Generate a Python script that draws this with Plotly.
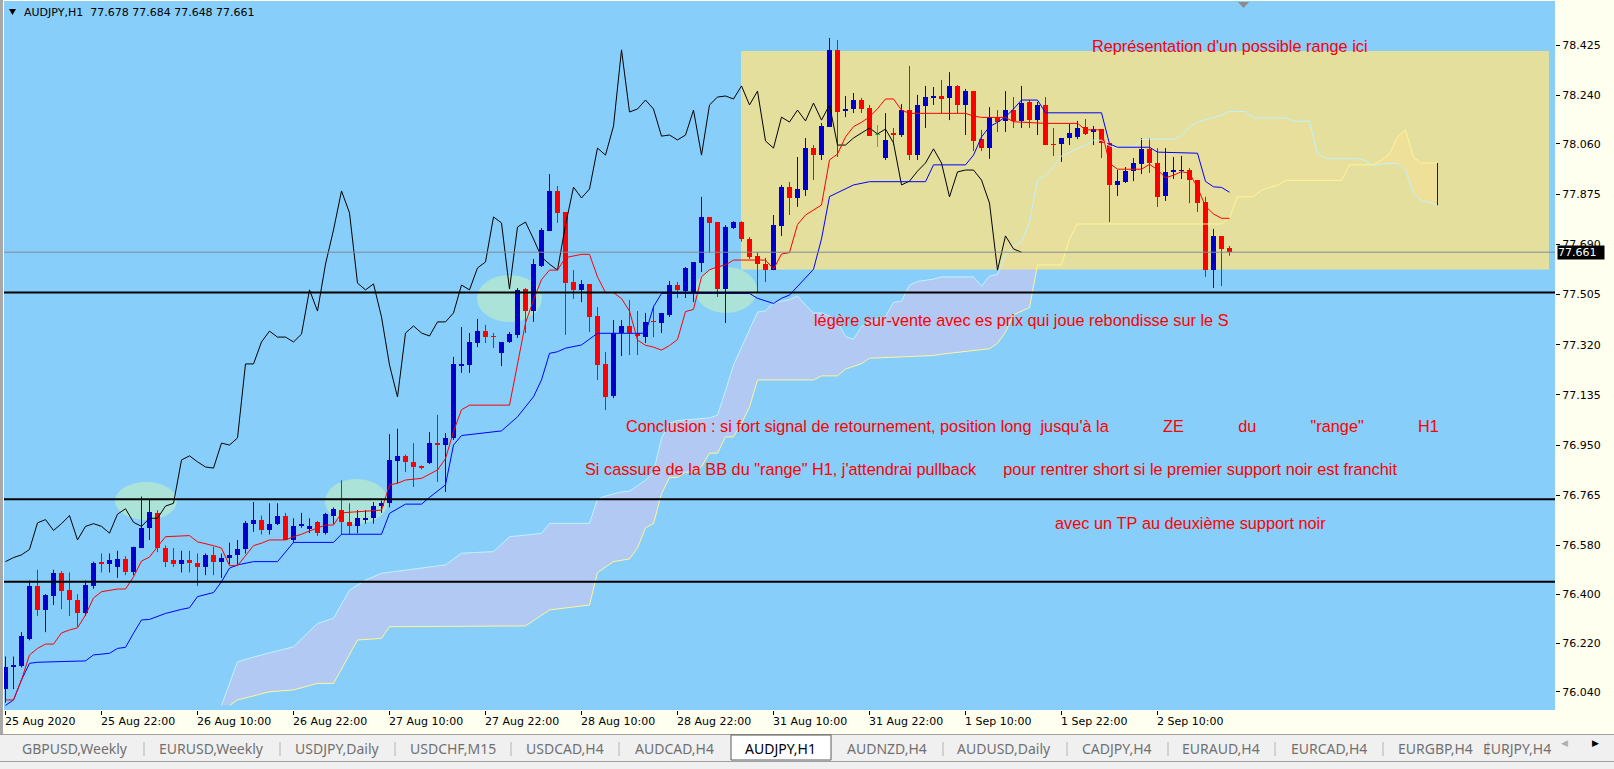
import plotly.graph_objects as go

# ---------------- data ----------------
opens = [76.05,76.13,76.135,76.235,76.43,76.34,76.395,76.478,76.415,76.38,
         76.33,76.43,76.52,76.51,76.50,76.53,76.48,76.57,76.645,76.70,
         76.57,76.525,76.51,76.525,76.515,76.50,76.545,76.52,76.535,76.545,
         76.565,76.66,76.675,76.635,76.66,76.69,76.60,76.65,76.64,76.665,
         76.625,76.69,76.71,76.665,76.65,76.675,76.68,76.725,76.735,76.89,
         76.91,76.887,76.873,76.884,76.957,76.950,76.976,77.241,77.245,77.326,
         77.370,77.350,77.289,77.330,77.356,77.525,77.444,77.610,77.739,77.887,
         77.809,77.551,77.522,77.544,77.426,77.249,77.131,77.363,77.389,77.363,
         77.348,77.407,77.400,77.429,77.540,77.518,77.514,77.621,77.791,77.772,
         77.525,77.750,77.772,77.710,77.647,77.617,77.595,77.758,77.901,77.861,
         77.890,78.045,78.019,78.123,78.407,78.182,78.189,78.222,78.193,78.093,
         78.008,78.101,78.093,78.185,78.019,78.200,78.230,78.237,78.230,78.274,
         78.204,78.255,78.078,78.045,78.159,78.145,78.185,78.145,78.215,78.148,
         78.204,78.060,78.060,78.082,78.086,78.123,78.104,78.115,78.064,77.909,
         77.920,77.960,77.986,78.042,77.990,77.868,77.957,77.960,77.964,77.927,
         77.846,77.595,77.721,77.678]
highs = [76.17,76.17,76.26,76.45,76.49,76.40,76.49,76.485,76.48,76.40,
         76.45,76.52,76.55,76.55,76.56,76.54,76.575,76.76,76.75,76.71,
         76.58,76.57,76.56,76.56,76.55,76.55,76.575,76.55,76.59,76.60,
         76.67,76.74,76.69,76.735,76.735,76.70,76.68,76.70,76.68,76.67,
         76.70,76.72,76.82,76.735,76.71,76.71,76.74,76.745,76.99,77.01,
         76.915,76.957,76.875,76.998,77.061,76.994,77.275,77.385,77.363,77.415,
         77.393,77.363,77.330,77.367,77.529,77.529,77.636,77.750,77.949,77.905,
         77.809,77.595,77.558,77.544,77.459,77.293,77.411,77.411,77.485,77.444,
         77.437,77.463,77.437,77.555,77.551,77.606,77.625,77.865,77.791,77.772,
         77.761,77.775,77.775,77.717,77.662,77.640,77.798,77.909,77.920,78.012,
         78.082,78.056,78.137,78.451,78.443,78.237,78.248,78.230,78.204,78.130,
         78.174,78.119,78.207,78.348,78.241,78.274,78.270,78.296,78.325,78.277,
         78.263,78.255,78.112,78.196,78.185,78.255,78.233,78.274,78.222,78.215,
         78.233,78.119,78.082,78.134,78.145,78.152,78.126,78.115,78.064,77.964,
         77.975,78.008,78.082,78.082,78.045,78.045,78.012,78.016,77.971,77.927,
         77.865,77.747,77.721,77.684]
lows = [76.00,76.05,76.13,76.23,76.32,76.26,76.36,76.345,76.32,76.28,
        76.32,76.42,76.48,76.48,76.46,76.47,76.47,76.57,76.60,76.555,
        76.50,76.50,76.48,76.48,76.43,76.47,76.47,76.46,76.51,76.51,
        76.55,76.63,76.62,76.62,76.655,76.60,76.59,76.645,76.625,76.615,
        76.62,76.66,76.62,76.62,76.625,76.66,76.66,76.70,76.72,76.81,
        76.85,76.795,76.86,76.88,76.814,76.777,76.969,77.216,77.216,77.311,
        77.326,77.308,77.241,77.326,77.345,77.363,77.404,77.606,77.739,77.769,
        77.356,77.489,77.477,77.367,77.190,77.079,77.123,77.278,77.282,77.282,
        77.326,77.348,77.363,77.422,77.492,77.492,77.477,77.588,77.658,77.496,
        77.400,77.747,77.700,77.636,77.514,77.551,77.595,77.721,77.798,77.828,
        77.868,77.927,78.001,78.123,78.012,78.159,78.174,78.174,78.089,78.049,
        78.001,78.056,78.086,78.001,78.001,78.119,78.204,78.174,78.148,78.174,
        78.093,78.034,78.034,78.005,78.104,78.104,78.119,78.119,78.119,78.093,
        78.056,78.016,77.994,78.056,78.078,78.093,78.056,78.008,77.772,77.868,
        77.916,77.923,77.949,77.953,77.828,77.850,77.931,77.931,77.842,77.809,
        77.570,77.529,77.536,77.648]
closes = [76.13,76.14,76.245,76.43,76.34,76.397,76.478,76.412,76.38,76.33,
          76.434,76.515,76.51,76.525,76.53,76.48,76.574,76.644,76.703,76.57,
          76.52,76.51,76.525,76.515,76.50,76.545,76.52,76.535,76.545,76.565,
          76.663,76.675,76.635,76.66,76.69,76.60,76.65,76.66,76.65,76.625,
          76.695,76.715,76.665,76.65,76.68,76.68,76.725,76.735,76.895,76.91,
          76.888,76.869,76.865,76.957,76.950,76.976,77.249,77.249,77.330,77.370,
          77.348,77.348,77.330,77.359,77.522,77.444,77.617,77.743,77.887,77.806,
          77.547,77.522,77.544,77.422,77.245,77.127,77.363,77.389,77.363,77.352,
          77.404,77.404,77.437,77.540,77.522,77.603,77.625,77.791,77.769,77.525,
          77.754,77.772,77.710,77.643,77.617,77.595,77.761,77.901,77.861,77.894,
          78.045,78.019,78.126,78.407,78.178,78.189,78.222,78.189,78.089,78.093,
          78.075,78.093,78.185,78.019,78.204,78.233,78.237,78.226,78.274,78.204,
          78.255,78.071,78.045,78.159,78.141,78.185,78.145,78.211,78.148,78.204,
          78.056,78.056,78.082,78.101,78.119,78.097,78.115,78.064,77.909,77.923,
          77.960,77.990,78.042,77.990,77.865,77.957,77.964,77.964,77.927,77.842,
          77.595,77.721,77.673,77.661]

time_tick_bars = [0, 12, 24, 36, 48, 60, 72, 84, 96, 108, 120, 132, 144]
time_tick_labels = ["25 Aug 2020", "25 Aug 22:00", "26 Aug 10:00", "26 Aug 22:00",
                    "27 Aug 10:00", "27 Aug 22:00", "28 Aug 10:00", "28 Aug 22:00",
                    "31 Aug 10:00", "31 Aug 22:00", "1 Sep 10:00", "1 Sep 22:00",
                    "2 Sep 10:00"]
price_ticks = [78.425, 78.240, 78.060, 77.875, 77.690, 77.505, 77.320,
               77.135, 76.950, 76.765, 76.580, 76.400, 76.220, 76.040]

tenkan_bars = [0,1,2,3,4,5,6,7,8,9,10,11,12,14,15,16,17,18,19,20,23,24,26,27,28,29,31,32,33,35,
               36,37,38,39,40,41,42,47,48,49,50,52,54,55,56,57,58,63,64,65,66,67,68,69,70,72,73,74,75,76,
               77,78,79,80,81,82,83,84,85,86,87,88,89,90,91,95,96,97,98,99,100,102,103,104,105,106,107,108,109,110,
               111,112,113,120,121,122,125,126,130,134,135,137,138,139,142,143,144,145,146,147,148,149,150,151,152,153]
tenkan_vals = [76.010,76.010,76.084,76.176,76.200,76.216,76.216,76.257,76.268,76.276,
               76.323,76.386,76.409,76.419,76.419,76.464,76.522,76.537,76.575,76.612,
               76.616,76.593,76.579,76.570,76.505,76.505,76.579,76.588,76.600,76.600,
               76.612,76.621,76.633,76.643,76.655,76.655,76.700,76.710,76.803,76.809,
               76.821,76.827,76.858,76.900,77.000,77.080,77.097,77.097,77.250,77.400,
               77.485,77.560,77.595,77.595,77.641,77.653,77.653,77.570,77.512,77.512,
               77.490,77.444,77.337,77.318,77.311,77.300,77.317,77.339,77.442,77.450,
               77.570,77.596,77.607,77.614,77.632,77.632,77.599,77.654,77.660,77.763,
               77.798,77.835,78.001,78.023,78.086,78.124,78.140,78.160,78.190,78.226,
               78.226,78.185,78.173,78.173,78.163,78.158,78.158,78.142,78.136,78.136,
               78.112,78.112,77.989,77.967,77.967,77.985,77.965,77.935,77.945,77.958,
               77.952,77.900,77.830,77.802,77.786,77.786]

kijun_bars = [0,1,2,3,4,7,10,11,13,14,15,16,17,18,20,22,23,24,26,27,28,29,31,34,35,36,41,42,47,48,
              50,52,53,55,56,57,62,64,66,67,68,69,70,72,74,80,81,82,93,94,96,97,98,101,102,103,106,108,115,116,
              120,121,122,123,124,125,126,127,129,130,137,138,139,143,144,149,150,151,152,153]
kijun_vals = [75.990,76.010,76.084,76.145,76.149,76.151,76.154,76.176,76.182,76.200,
              76.204,76.256,76.305,76.307,76.329,76.344,76.350,76.391,76.406,76.446,
              76.496,76.508,76.520,76.520,76.557,76.591,76.591,76.621,76.621,76.698,
              76.732,76.732,76.757,76.803,76.950,76.985,77.002,77.054,77.128,77.190,
              77.288,77.294,77.307,77.319,77.362,77.362,77.460,77.509,77.509,77.491,
              77.472,77.491,77.503,77.598,77.710,77.866,77.909,77.921,77.921,77.983,
              77.983,78.019,78.086,78.124,78.140,78.160,78.189,78.222,78.222,78.175,
              78.175,78.060,78.048,78.048,78.030,78.026,77.922,77.902,77.900,77.882]

senkou_a_bars = [27,29,32,36,39,41,43,45,47,52,55,57,61,63,67,68,73,74,75,77,
                 78,79,80,81,82,83,84,88,89,90,91,92,93,94,95,96,98,99,100,101,
                 102,103,104,105,106,107,108,109,110,111,112,113,114,116,117,121,122,123,124,125,
                 126,127,128,129,130,131,132,133,134,135,136,137,138,139,141,142,146,147,148,149,
                 150,151,152,153,155,156,160,161,163,164,165,169,170,171,172,174,175,176,177,178,179]
senkou_a_vals = [75.990,76.151,76.176,76.206,76.292,76.311,76.415,76.452,76.477,76.495,
                 76.508,76.551,76.557,76.612,76.624,76.661,76.661,76.750,76.762,76.777,
                 76.780,76.800,76.820,76.850,76.975,77.030,77.040,77.050,77.060,77.150,
                 77.245,77.310,77.375,77.440,77.445,77.474,77.486,77.500,77.466,77.437,
                 77.437,77.426,77.403,77.350,77.340,77.386,77.405,77.413,77.424,77.476,
                 77.480,77.540,77.553,77.562,77.570,77.570,77.536,77.573,77.580,77.650,
                 77.684,77.700,77.770,77.930,77.943,77.977,78.016,78.029,78.043,78.056,
                 78.074,78.074,78.053,78.047,78.047,78.078,78.078,78.091,78.122,78.141,
                 78.149,78.159,78.166,78.180,78.180,78.156,78.156,78.144,78.144,78.025,
                 78.007,78.007,77.998,77.980,77.986,77.989,77.963,77.876,77.852,77.843,
                 77.834]

senkou_b_bars = [28,29,33,36,39,41,44,47,48,65,68,73,74,76,78,79,80,81,82,83,
                 84,85,86,87,88,89,90,91,92,93,94,101,102,104,105,107,108,116,117,123,
                 124,125,126,128,129,132,133,134,152,153,154,156,157,158,159,160,167,168,171,172,
                 173,174,175,176,177,179]
senkou_b_vals = [75.990,76.010,76.040,76.047,76.071,76.071,76.231,76.237,76.280,76.283,
                 76.342,76.360,76.480,76.520,76.530,76.570,76.645,76.660,76.770,76.830,
                 76.830,76.850,76.850,76.870,76.920,76.920,76.980,76.980,77.030,77.090,
                 77.190,77.190,77.205,77.205,77.230,77.250,77.270,77.280,77.285,77.305,
                 77.325,77.366,77.430,77.457,77.614,77.614,77.710,77.765,77.765,77.787,
                 77.865,77.866,77.889,77.900,77.907,77.926,77.926,77.983,77.983,78.001,
                 78.023,78.086,78.112,78.010,77.990,77.990]
cloud_cross_bar = 171
chikou_shift = 26

support_levels = [77.512, 76.750, 76.446]
range_box = {"bar0": 91.94, "bar1": 192.94, "low": 77.597, "high": 78.403}
zones = [  # bar0, bar1, price_low, price_high
    (13.69, 21.44, 76.6735, 76.8136),
    (39.94, 47.81, 76.6588, 76.8247),
    (58.94, 67.06, 77.4036, 77.5769),
    (86.19, 93.94, 77.4368, 77.6064),
]
GAP = " " * 12
notes = [  # left bar, price, text
    (135.69, 78.4213, "Représentation d'un possible range ici"),
    (100.98, 77.4128, "légère sur-vente avec es prix qui joue rebondisse sur le S"),
    (77.39, 77.0201, "Conclusion : si fort signal de retournement, position long  jusqu'à la"
                     + GAP + "ZE" + GAP + "du" + GAP + "\"range\"" + GAP + "H1"),
    (72.37, 76.8634, "Si cassure de la BB du \"range\" H1, j'attendrai pullback      pour rentrer short si le premier support noir est franchit"),
    (131.06, 76.6643, "avec un TP au deuxième support noir"),
]
symbol = "AUDJPY,H1"
tabs = ["GBPUSD,Weekly", "EURUSD,Weekly", "USDJPY,Daily", "USDCHF,M15", "USDCAD,H4",
        "AUDCAD,H4", "AUDJPY,H1", "AUDNZD,H4", "AUDUSD,Daily", "CADJPY,H4", "EURAUD,H4",
        "EURCAD,H4", "EURGBP,H4", "EURJPY,H4"]
active_tab = "AUDJPY,H1"

# ---------------- geometry / style ----------------
W, H = 1614, 769
ML, MR, MT, MB = 4, 59, 1, 59
PW, PH = W - ML - MR, H - MT - MB
BAR_PX = 8.0
X0 = -0.1875
X1 = X0 + PW / BAR_PX
PX_PER_PRICE = 271.2
Y1 = 78.425 + (45 - MT) / PX_PER_PRICE
Y0 = Y1 - PH / PX_PER_PRICE

SKY = "#87CEFA"
IVORY = "#FFFFF0"
BULL = "#0000CD"
BEAR = "#FF0000"
DOJI = "#22D022"
NOTE_FONT = dict(family="Liberation Sans", size=16.3, color="#FF0000")


def fx(px):
    return (px - ML) / PW


def fy(py):
    return (MT + PH - py) / PH


fig = go.Figure()


def poly(upper_b, upper_v, lower_b, lower_v, keep):
    ub = [b for b in upper_b if keep(b)]
    uv = [v for b, v in zip(upper_b, upper_v) if keep(b)]
    lb = [b for b in lower_b if keep(b)]
    lv = [v for b, v in zip(lower_b, lower_v) if keep(b)]
    return ub + lb[::-1] + ub[:1], uv + lv[::-1] + uv[:1]


# ---- Ichimoku cloud fills ----
px_, py_ = poly(senkou_a_bars, senkou_a_vals, senkou_b_bars, senkou_b_vals,
                lambda b: b <= cloud_cross_bar)
fig.add_trace(go.Scatter(x=px_, y=py_, mode="lines", fill="toself", fillcolor="#B2CAF3",
                         line=dict(width=0), hoverinfo="skip", zorder=0))
px_, py_ = poly(senkou_a_bars, senkou_a_vals, senkou_b_bars, senkou_b_vals,
                lambda b: b >= cloud_cross_bar - 1)
fig.add_trace(go.Scatter(x=px_, y=py_, mode="lines", fill="toself", fillcolor="#E8D6C6",
                         line=dict(width=0), hoverinfo="skip", zorder=0))

# ---- range rectangle (over the cloud, under lines/candles) ----
rb = range_box
fig.add_trace(go.Scatter(
    x=[rb["bar0"], rb["bar1"], rb["bar1"], rb["bar0"], rb["bar0"]],
    y=[rb["low"], rb["low"], rb["high"], rb["high"], rb["low"]],
    mode="lines", fill="toself", fillcolor="rgba(238,225,146,0.9)",
    line=dict(width=0), hoverinfo="skip", zorder=1))

# ---- candles ----
n = len(closes)
groups = {"bull": [], "bear": [], "doji": []}
for i in range(n):
    if closes[i] > opens[i]:
        groups["bull"].append(i)
    elif closes[i] < opens[i]:
        groups["bear"].append(i)
    else:
        groups["doji"].append(i)
colors = {"bull": BULL, "bear": BEAR, "doji": DOJI}
min_body = 1.0 / PX_PER_PRICE
for key, ids in groups.items():
    if not ids:
        continue
    wx, wy = [], []
    for i in ids:
        wx += [i, i, None]
        wy += [lows[i], highs[i], None]
    fig.add_trace(go.Scatter(x=wx, y=wy, mode="lines", line=dict(color=colors[key], width=1),
                             hoverinfo="skip", zorder=2))
    fig.add_trace(go.Bar(
        x=ids,
        base=[min(opens[i], closes[i]) for i in ids],
        y=[max(abs(closes[i] - opens[i]), min_body) for i in ids],
        width=0.625, marker=dict(color=colors[key], line=dict(width=0)),
        hoverinfo="skip", zorder=2))

# ---- Ichimoku lines ----
fig.add_trace(go.Scatter(x=senkou_a_bars, y=senkou_a_vals, mode="lines",
                         line=dict(color="#BFF3FF", width=1), hoverinfo="skip", zorder=3))
fig.add_trace(go.Scatter(x=senkou_b_bars, y=senkou_b_vals, mode="lines",
                         line=dict(color="#FFF59A", width=1), hoverinfo="skip", zorder=3))
fig.add_trace(go.Scatter(x=[senkou_a_bars[-1], senkou_b_bars[-1]],
                         y=[senkou_a_vals[-1], senkou_b_vals[-1]], mode="lines",
                         line=dict(color="#202020", width=1), hoverinfo="skip", zorder=3))
chikou_x = [i - chikou_shift for i in range(chikou_shift, n)]
chikou_y = closes[chikou_shift:]
fig.add_trace(go.Scatter(x=chikou_x, y=chikou_y, mode="lines",
                         line=dict(color="black", width=1), hoverinfo="skip", zorder=3))
fig.add_trace(go.Scatter(x=kijun_bars, y=kijun_vals, mode="lines",
                         line=dict(color="#0000FF", width=1), hoverinfo="skip", zorder=3))
fig.add_trace(go.Scatter(x=tenkan_bars, y=tenkan_vals, mode="lines",
                         line=dict(color="#FF0000", width=1), hoverinfo="skip", zorder=3))

shapes = []
for b0, b1, p0, p1 in zones:
    shapes.append(dict(type="circle", xref="x", yref="y", x0=b0, x1=b1, y0=p0, y1=p1,
                       fillcolor="#ABE3D8", line=dict(width=0), layer="below"))
shapes.append(dict(type="line", xref="paper", yref="y", x0=0, x1=1,
                   y0=closes[-1], y1=closes[-1], line=dict(color="#7D8A97", width=1), layer="above"))
for lv in support_levels:
    shapes.append(dict(type="line", xref="paper", yref="y", x0=0, x1=1, y0=lv, y1=lv,
                       line=dict(color="black", width=2), layer="above"))

# window chrome
shapes.append(dict(type="rect", xref="paper", yref="paper", x0=fx(0), x1=fx(3), y0=fy(734), y1=fy(0),
                   fillcolor="#A8A8A8", line=dict(width=0), layer="above"))
shapes.append(dict(type="rect", xref="paper", yref="paper", x0=fx(0), x1=fx(W), y0=fy(H), y1=fy(734),
                   fillcolor="#F0F0F0", line=dict(width=0), layer="above"))
shapes.append(dict(type="line", xref="paper", yref="paper", x0=fx(0), x1=fx(W), y0=fy(734.5), y1=fy(734.5),
                   line=dict(color="#A0A0A0", width=1), layer="above"))
shapes.append(dict(type="line", xref="paper", yref="paper", x0=fx(0), x1=fx(W), y0=fy(761.5), y1=fy(761.5),
                   line=dict(color="#A0A0A0", width=1), layer="above"))
shapes.append(dict(type="path", xref="paper", yref="paper",
                   path="M %f,%f L %f,%f L %f,%f Z" % (fx(9), fy(9), fx(16), fy(9), fx(12.5), fy(15)),
                   fillcolor="black", line=dict(width=0), layer="above"))
shapes.append(dict(type="path", xref="paper", yref="paper",
                   path="M %f,%f L %f,%f L %f,%f Z" % (fx(1238), fy(2), fx(1249), fy(2), fx(1243.5), fy(8)),
                   fillcolor="#8C8C8C", line=dict(width=0), layer="above"))

annotations = []
for b, t in zip(time_tick_bars, time_tick_labels):
    annotations.append(dict(x=b, xref="x", y=fy(721.5), yref="paper", text=t, showarrow=False,
                            xanchor="left", yanchor="middle", xshift=-1.5, borderpad=0,
                            font=dict(family="DejaVu Sans", size=11, color="black")))
annotations.append(dict(x=fx(23), xref="paper", y=fy(13), yref="paper",
                        text="%s\u00a0\u00a0%.3f %.3f %.3f %.3f" % (symbol, opens[-1], highs[-1], lows[-1], closes[-1]),
                        showarrow=False, xanchor="left", yanchor="middle", borderpad=0,
                        font=dict(family="DejaVu Sans", size=11, color="black")))
for b, p, t in notes:
    annotations.append(dict(x=b, xref="x", y=p, yref="y", text=t.replace(" ", "\u00a0"),
                            showarrow=False, xanchor="left", yanchor="middle", borderpad=0,
                            font=NOTE_FONT))
annotations.append(dict(x=fx(1557), xref="paper", y=closes[-1], yref="y", text="%.3f" % closes[-1],
                        showarrow=False, xanchor="left", yanchor="middle", bgcolor="black",
                        width=46, height=13, align="left", borderpad=0,
                        font=dict(family="DejaVu Sans", size=11, color="white")))

# tabs
tab_centers = [75, 211, 337, 453, 565, 674, 780, 887, 1004, 1117, 1221, 1329, 1435, 1517]
separators = [144, 280, 395, 511, 619, 943, 1067, 1168, 1275, 1383, 1488]
for sx in separators:
    shapes.append(dict(type="line", xref="paper", yref="paper", x0=fx(sx), x1=fx(sx),
                       y0=fy(742), y1=fy(756), line=dict(color="#B4B4B4", width=1), layer="above"))
shapes.append(dict(type="rect", xref="paper", yref="paper", x0=fx(731), x1=fx(831),
                   y0=fy(760), y1=fy(735), fillcolor="white", line=dict(color="#5A5A5A", width=1),
                   layer="above"))
for t, cx in zip(tabs, tab_centers):
    annotations.append(dict(x=fx(cx), xref="paper", y=fy(749), yref="paper", text=t, showarrow=False,
                            xanchor="center", yanchor="middle", borderpad=0,
                            font=dict(family="Noto Sans", size=14,
                                      color="black" if t == active_tab else "#707070")))
annotations.append(dict(x=fx(1569), xref="paper", y=fy(749), yref="paper", text="\u25C0", showarrow=False,
                        borderpad=0, font=dict(family="DejaVu Sans", size=9, color="#B0B0B0")))
annotations.append(dict(x=fx(1600), xref="paper", y=fy(749), yref="paper", text="\u25B6", showarrow=False,
                        borderpad=0, font=dict(family="DejaVu Sans", size=9, color="black")))

fig.update_layout(
    width=W, height=H, margin=dict(l=ML, r=MR, t=MT, b=MB, pad=0),
    paper_bgcolor=IVORY, plot_bgcolor=SKY, showlegend=False, hovermode=False,
    barmode="overlay", bargap=0,
    xaxis=dict(range=[X0, X1], showgrid=False, zeroline=False, showline=True, mirror=True,
               linecolor="black", linewidth=1, ticks="outside", ticklen=4, tickcolor="black",
               tickvals=time_tick_bars, showticklabels=False, fixedrange=True),
    yaxis=dict(range=[Y0, Y1], side="right", showgrid=False, zeroline=False, showline=True,
               mirror=True, linecolor="black", linewidth=1, ticks="outside", ticklen=4,
               tickcolor="black", tickvals=price_ticks, ticktext=["%.3f" % v for v in price_ticks],
               tickfont=dict(family="DejaVu Sans", size=11, color="black"), fixedrange=True),
    shapes=shapes, annotations=annotations,
)

fig.write_html("out.html", config={"displayModeBar": False, "staticPlot": True},
               post_script="document.body.style.margin='0';document.body.style.overflow='hidden';")
